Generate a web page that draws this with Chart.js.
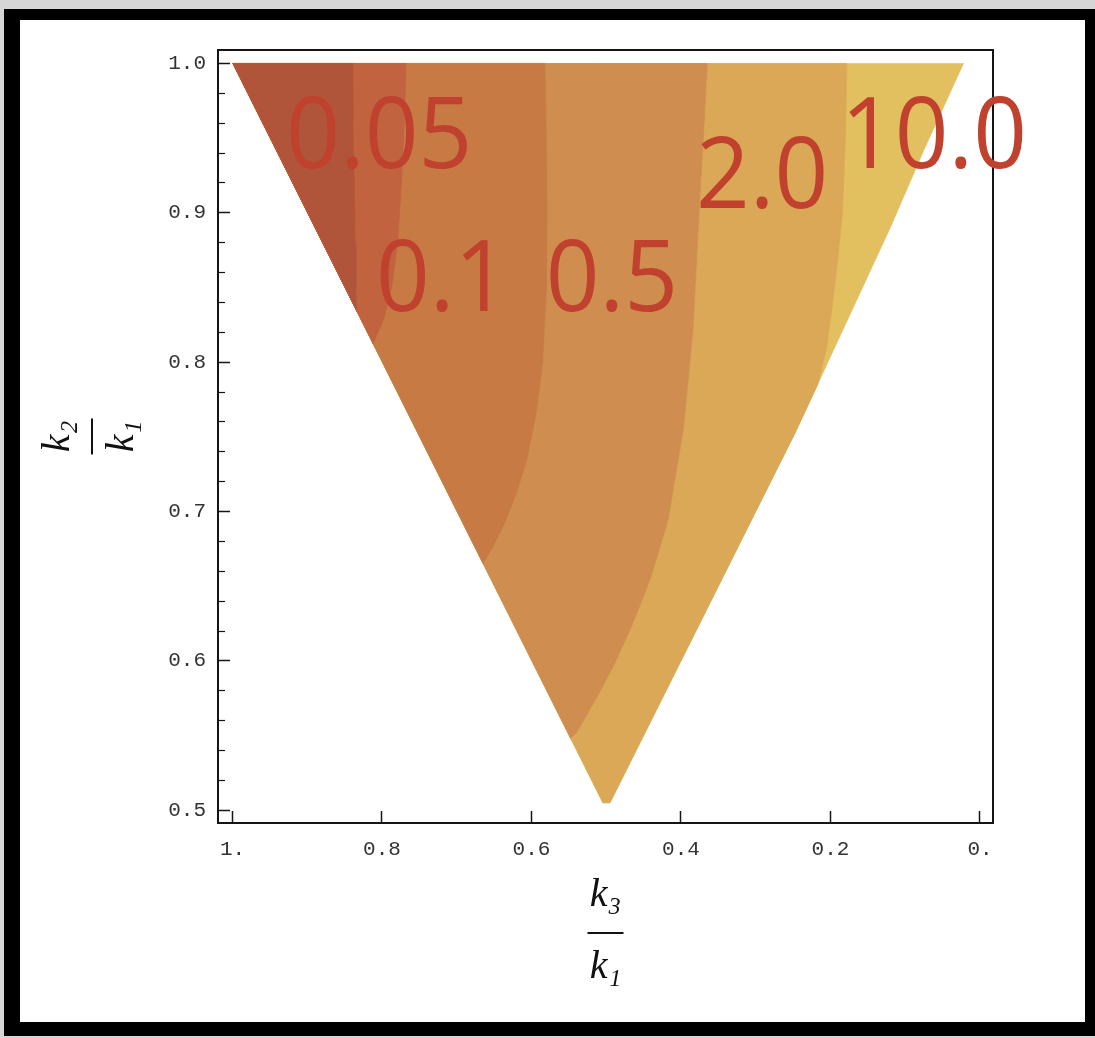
<!DOCTYPE html>
<html>
<head>
<meta charset="utf-8">
<title>k2/k1 vs k3/k1 contour map</title>
<script src="https://cdn.jsdelivr.net/npm/chart.js@4.4.1/dist/chart.umd.min.js"></script>
<style>
  html, body { margin: 0; padding: 0; width: 1095px; height: 1038px; overflow: hidden; background: #d6d6d6; }
  #frame {
    position: absolute; left: 4px; top: 9px; width: 1091px; height: 1027px;
    box-sizing: border-box; border-style: solid; border-color: #000;
    border-width: 11px 10px 14px 16px; background: #fff;
  }
  #plot { position: absolute; left: 0; top: 0; width: 1065px; height: 1002px; }
</style>
</head>
<body>
<div id="frame"><canvas id="plot" width="1065" height="1002"></canvas></div>
<script>
// ---- axis ticks ----
const xTickValues = [1.0, 0.8, 0.6, 0.4, 0.2, 0.0];
const xTickLabels = ['1.', '0.8', '0.6', '0.4', '0.2', '0.'];
const yTickValues = [0.5, 0.6, 0.7, 0.8, 0.9, 1.0];
const yTickLabels = ['0.5', '0.6', '0.7', '0.8', '0.9', '1.0'];
const yMinorTickValues = [0.52, 0.54, 0.56, 0.58, 0.62, 0.64, 0.66, 0.68, 0.72, 0.74,
                          0.76, 0.78, 0.82, 0.84, 0.86, 0.88, 0.92, 0.94, 0.96, 0.98];

// ---- allowed region in (k3/k1, k2/k1): k3 <= k2 <= k1, k2 + k3 >= k1 ----
const domainCorner = [1.0, 1.0];
const domainRightEdge = [[0.022, 1.0], [0.075, 0.942], [0.12, 0.89], [0.247, 0.753]];
const domainTip = [[0.495, 0.505], [0.505, 0.505]];

// ---- contour boundaries, from the top edge down to where they leave the triangle ----
const isoline1 = [[0.840, 1.0], [0.839, 0.96], [0.837, 0.92], [0.836, 0.88], [0.835, 0.85], [0.834, 0.834]];
const isoline2 = [[0.768, 1.0], [0.770, 0.96], [0.774, 0.92], [0.779, 0.88], [0.787, 0.85], [0.797, 0.83], [0.812, 0.812]];
const isoline3 = [[0.582, 1.0], [0.580, 0.95], [0.579, 0.90], [0.580, 0.85], [0.585, 0.80], [0.594, 0.765],
                  [0.606, 0.735], [0.621, 0.711], [0.638, 0.690], [0.652, 0.676], [0.665, 0.665]];
const isoline4 = [[0.365, 1.0], [0.370, 0.95], [0.375, 0.909], [0.380, 0.86], [0.384, 0.822], [0.390, 0.79],
                  [0.397, 0.755], [0.407, 0.725], [0.417, 0.695], [0.430, 0.673], [0.441, 0.655], [0.455, 0.637],
                  [0.468, 0.621], [0.490, 0.597], [0.510, 0.578], [0.527, 0.563], [0.540, 0.552], [0.548, 0.548]];
const isoline5 = [[0.178, 1.0], [0.180, 0.95], [0.184, 0.90], [0.190, 0.87], [0.197, 0.84], [0.205, 0.81], [0.217, 0.785]];

// ---- level annotations ----
const levelLabels = ['0.05', '0.1', '0.5', '2.0', '10.0'];
const levelLabelAnchors = [[0.928, 0.930], [0.808, 0.834], [0.581, 0.834], [0.380, 0.903], [0.186, 0.930]];

// band fills, darkest (upper left) to lightest (right)
const bandColors = ['#b0553a', '#c1633f', '#c77a44', '#cf8e50', '#dba857', '#e2c060'];

const toPoints = pts => pts.map(([x, y]) => ({ x, y }));

// each band is painted as the part of the triangle left of its boundary;
// the first dataset is drawn last, so darker bands sit over the lighter ones
const bandShapes = [
  [domainCorner, ...isoline1],
  [domainCorner, ...isoline2],
  [domainCorner, ...isoline3],
  [domainCorner, ...isoline4],
  [domainCorner, ...isoline5, domainRightEdge[3], ...domainTip],
  [domainCorner, ...domainRightEdge, ...domainTip]
];

const datasets = bandShapes.map((shape, i) => ({
  data: toPoints(shape),
  showLine: true,
  fill: 'shape',
  backgroundColor: bandColors[i],
  borderColor: bandColors[i],
  borderWidth: 0.6,
  pointRadius: 0,
  tension: 0
}));

const xMin = -0.0174, xMax = 1.0194;
const yMin = 0.4915, yMax = 1.009;

const frameColor = '#151515';
const tickFont = { family: '"Liberation Mono", "DejaVu Sans Mono", monospace', size: 21 };
const titleFontBase = { family: '"Liberation Serif", "DejaVu Serif", serif', style: 'italic', size: 40 };

// keep the plot box where the layout puts it: label overhang must not shrink it
const noOverhang = s => { s.paddingTop = 0; s.paddingBottom = 0; s.paddingLeft = 0; s.paddingRight = 0; };

const levelLabelPlugin = {
  id: 'levelLabels',
  afterDraw(chart) {
    const { ctx, scales: { x, y } } = chart;
    ctx.save();
    ctx.fillStyle = '#c0412d';
    ctx.font = '99px "Open Sans", "Noto Sans", sans-serif';
    ctx.textAlign = 'left';
    ctx.textBaseline = 'alphabetic';
    levelLabels.forEach((text, i) => {
      const [ax, ay] = levelLabelAnchors[i];
      ctx.save();
      ctx.translate(x.getPixelForValue(ax), y.getPixelForValue(ay));
      ctx.scale(0.95, 1);
      ctx.fillText(text, 0, 0);
      ctx.restore();
    });
    ctx.restore();
  }
};

new Chart(document.getElementById('plot'), {
  type: 'scatter',
  data: { datasets },
  plugins: [levelLabelPlugin],
  options: {
    responsive: false,
    animation: false,
    layout: { padding: { top: 30, right: 92, bottom: 29, left: 0 } },
    plugins: { legend: { display: false }, tooltip: { enabled: false } },
    scales: {
      x: {
        type: 'linear', position: 'bottom', reverse: true, min: xMin, max: xMax, weight: 1,
        afterFit: s => { s.height = 170; noOverhang(s); },
        afterBuildTicks: s => { s.ticks = xTickValues.map(v => ({ value: v })); },
        ticks: { callback: (v, i) => xTickLabels[i], padding: 26, color: '#333', font: tickFont,
                 maxRotation: 0, autoSkip: false },
        grid: { display: true, drawOnChartArea: false, drawTicks: true, tickLength: -12,
                tickColor: frameColor, tickWidth: 1.5 },
        border: { display: true, color: frameColor, width: 2 },
        title: { display: true, text: ['k\u2083', '\u2014', 'k\u2081'], color: '#111',
                 padding: { top: 0, bottom: 8 }, font: { ...titleFontBase, lineHeight: '36px' } }
      },
      x2: {
        type: 'linear', position: 'top', min: xMin, max: xMax,
        afterFit: s => { s.height = 0; noOverhang(s); },
        ticks: { display: false },
        grid: { display: true, drawOnChartArea: false, drawTicks: false },
        border: { display: true, color: frameColor, width: 2 }
      },
      y: {
        type: 'linear', position: 'left', min: yMin, max: yMax, weight: 1,
        afterFit: s => { s.width = 198; noOverhang(s); },
        afterBuildTicks: s => { s.ticks = yTickValues.map(v => ({ value: v })); },
        ticks: { callback: (v, i) => yTickLabels[i], padding: 24, color: '#333', font: tickFont, autoSkip: false },
        grid: { display: true, drawOnChartArea: false, drawTicks: true, tickLength: -12,
                tickColor: frameColor, tickWidth: 1.5 },
        border: { display: true, color: frameColor, width: 2 },
        title: { display: true, text: ['k\u2082', '\u2014', 'k\u2081'], color: '#111',
                 padding: { top: 22, bottom: 0 }, font: { ...titleFontBase, lineHeight: '32px' } }
      },
      yMinor: {
        type: 'linear', position: 'left', min: yMin, max: yMax, weight: 0,
        afterFit: s => { s.width = 0; noOverhang(s); },
        afterBuildTicks: s => { s.ticks = yMinorTickValues.map(v => ({ value: v })); },
        ticks: { display: false },
        grid: { display: true, drawOnChartArea: false, drawTicks: true, tickLength: -7,
                tickColor: frameColor, tickWidth: 1.2 },
        border: { display: false }
      },
      y2: {
        type: 'linear', position: 'right', min: yMin, max: yMax,
        afterFit: s => { s.width = 0; noOverhang(s); },
        ticks: { display: false },
        grid: { display: true, drawOnChartArea: false, drawTicks: false },
        border: { display: true, color: frameColor, width: 2 }
      }
    }
  }
});
</script>
</body>
</html>
